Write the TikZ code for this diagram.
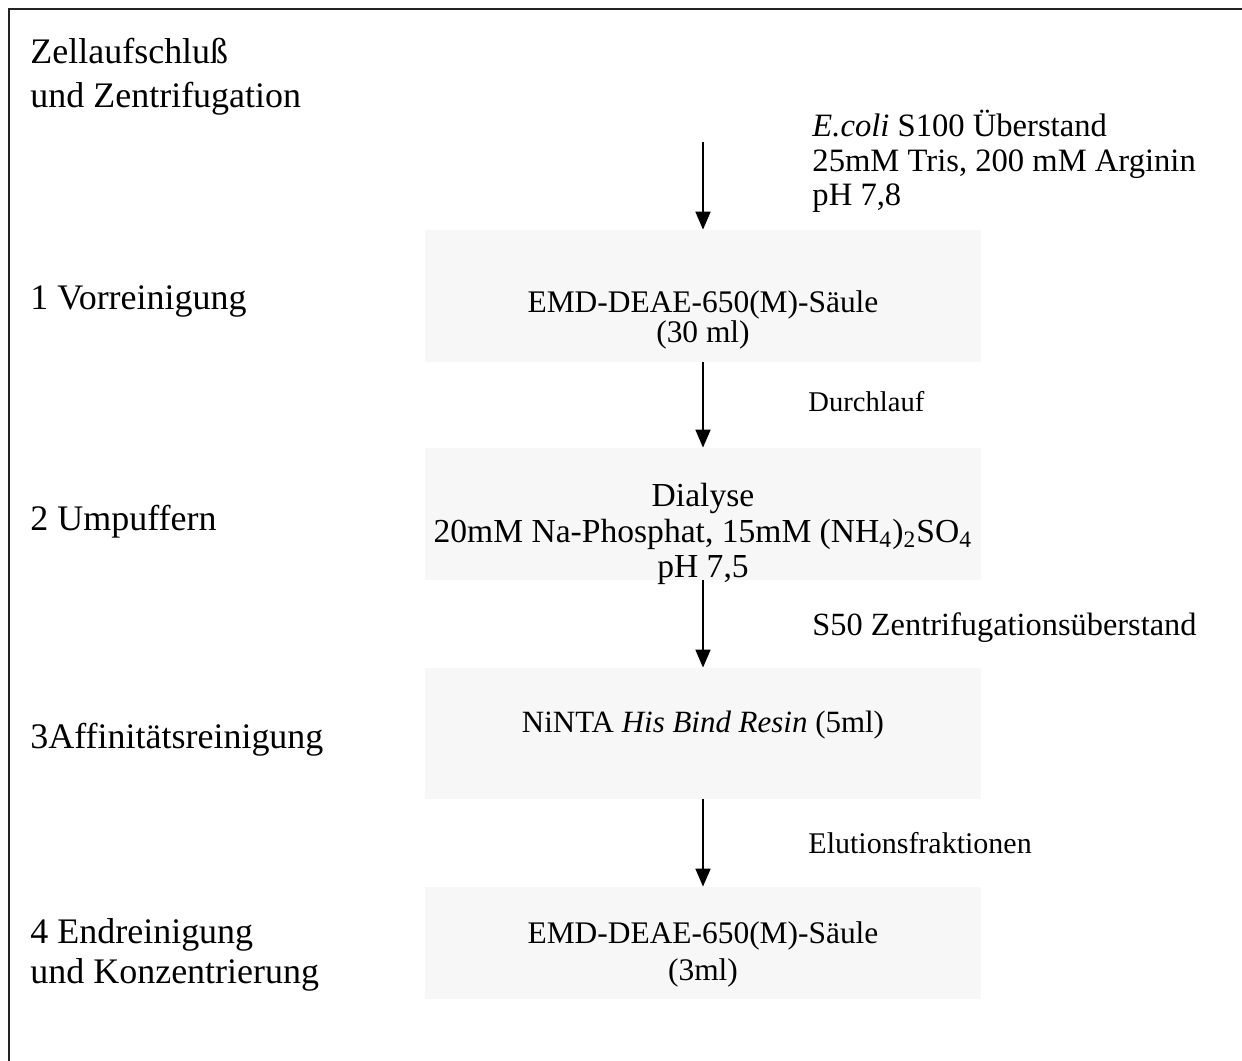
\documentclass[tikz,border=0pt]{standalone}
\usepackage{fontspec}
\setmainfont{Liberation Serif}
\usetikzlibrary{positioning,arrows.meta}
\definecolor{cStage}{RGB}{247,247,247}
\definecolor{cFrame}{RGB}{35,35,35}

\begin{document}
\begin{tikzpicture}[x=0.42pt,y=-0.42pt,
  stage/.style={fill=cStage,inner sep=0pt,minimum width=233.5pt},
  phase/.style={font=\fontsize{15.1}{18.7}\selectfont,inner sep=0pt,align=left,anchor=base west},
  inbox/.style={font=\fontsize{13.2}{13}\selectfont,inner sep=0pt,align=center,anchor=base},
  note/.style={font=\fontsize{13.7}{14.5}\selectfont,inner sep=0pt,align=left,anchor=base west},
  flow/.style={line width=0.65pt,-{Triangle[width=6.3pt,length=7.5pt]}}]
 \useasboundingbox (0,0) rectangle (1242,1061);
 % ---- frame ----
 \draw[cFrame,line width=0.85pt] (1242,9) -- (9,9) -- (9,1061);
 % ---- phases (left column) ----
 \node[phase] (pAuf) at (30,108) {Zellaufschluß\\und Zentrifugation};
 \node[phase] (pVor) at (30,310) {1 Vorreinigung};
 \node[phase] (pUmp) at (30,531) {2 Umpuffern};
 \node[phase] (pAff) at (30,748) {3Affinitätsreinigung};
 \node[phase,font=\fontsize{15.1}{16.4}\selectfont] (pEnd) at (30,983) {4 Endreinigung\\und Konzentrierung};
 % ---- stages ----
 \node[stage,minimum height=55.4pt] (sVor) at (703,296)   {};
 \node[stage,minimum height=55.4pt] (sUmp) at (703,514)   {};
 \node[stage,minimum height=55pt]   (sAff) at (703,733.5) {};
 \node[stage,minimum height=47pt]   (sEnd) at (703,943)   {};
 \node[inbox] (tVor) at (703,343) {EMD-DEAE-650(M)-Säule\\(30 ml)};
 \node[inbox,font=\fontsize{14.1}{15}\selectfont] (tUmp) at (703,578)
      {Dialyse\\20mM Na-Phosphat, 15mM (NH\textsubscript{4})\textsubscript{2}SO\textsubscript{4}\\pH 7,5};
 \node[inbox,font=\fontsize{13}{15}\selectfont] (tAff) at (703,732) {NiNTA \textit{His Bind Resin} (5ml)};
 \node[inbox,font=\fontsize{13.2}{15.5}\selectfont] (tEnd) at (703,980) {EMD-DEAE-650(M)-Säule\\(3ml)};
 % ---- flow ----
 \coordinate (feed) at (703,142);
 \draw[flow] (feed) -- (sVor.north);
 \draw[flow] (sVor.south) -- (sUmp.north);
 \draw[flow] (sUmp.south) -- (sAff.north);
 \draw[flow] (sAff.south) -- (sEnd.north);
 % ---- notes ----
 \node[note] (nFeed) at (812,206) {\textit{E.coli} S100 Überstand\\25mM Tris, 200 mM Arginin\\pH 7,8};
 \node[note,font=\fontsize{12}{14}\selectfont] (nDurch) at (808,412) {Durchlauf};
 \node[note,font=\fontsize{13.6}{14}\selectfont] (nS50) at (812,636) {S50 Zentrifugationsüberstand};
 \node[note,font=\fontsize{12.6}{14}\selectfont] (nElu) at (808,853) {Elutionsfraktionen};
\end{tikzpicture}
\end{document}
